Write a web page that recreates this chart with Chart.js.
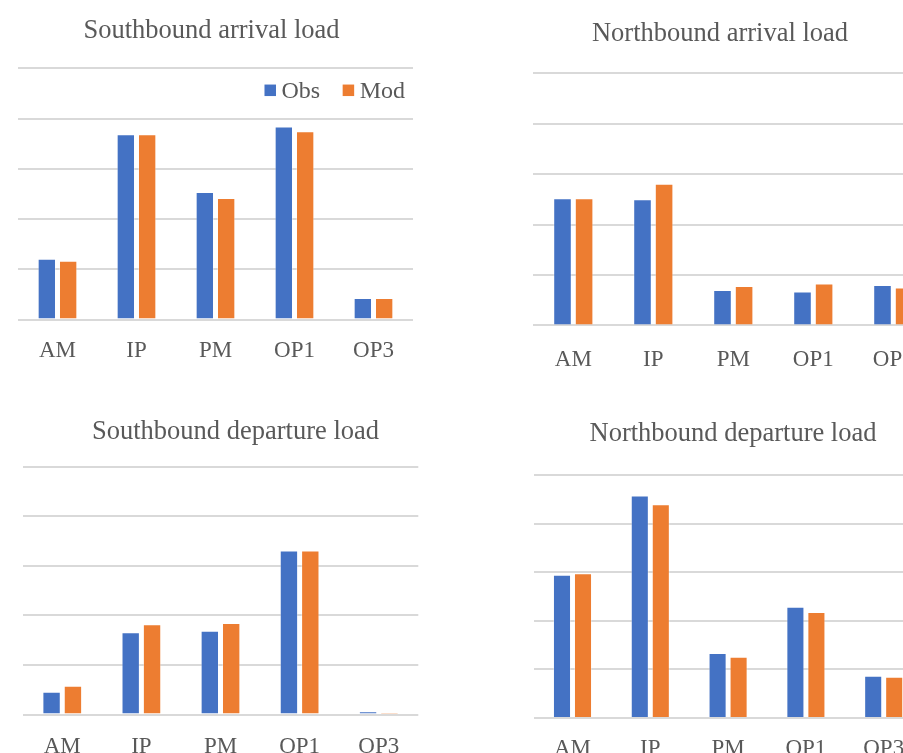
<!DOCTYPE html>
<html>
<head>
<meta charset="utf-8">
<script src="https://cdn.jsdelivr.net/npm/chart.js@4.4.1/dist/chart.umd.min.js"></script>
<style>
  html, body { margin: 0; padding: 0; background: #fff; }
  body { position: relative; width: 903px; height: 753px; overflow: hidden; }
  .panel { position: absolute; }
  .panel canvas { display: block; }
</style>
</head>
<body>
<div class="panel" style="left:0px;top:0px"><canvas id="sbArr" width="423" height="383"></canvas></div>
<div class="panel" style="left:500px;top:0px"><canvas id="nbArr" width="440" height="394"></canvas></div>
<div class="panel" style="left:0px;top:390px"><canvas id="sbDep" width="471" height="390"></canvas></div>
<div class="panel" style="left:520px;top:390px"><canvas id="nbDep" width="426" height="390"></canvas></div>
<script>
// Time periods shown on every panel
const periods = ['AM', 'IP', 'PM', 'OP1', 'OP3'];
const seriesNames = ['Obs', 'Mod'];

// Southbound arrival load
const sbArrivalObs = [1.21, 3.69, 2.54, 3.84, 0.43];
const sbArrivalMod = [1.17, 3.69, 2.42, 3.75, 0.43];
// Northbound arrival load
const nbArrivalObs = [2.52, 2.50, 0.70, 0.67, 0.80];
const nbArrivalMod = [2.52, 2.81, 0.78, 0.83, 0.75];
// Southbound departure load
const sbDepartureObs = [0.46, 1.66, 1.69, 3.31, 0.07];
const sbDepartureMod = [0.58, 1.82, 1.85, 3.31, 0.04];
// Northbound departure load
const nbDepartureObs = [2.95, 4.58, 1.34, 2.29, 0.87];
const nbDepartureMod = [2.98, 4.40, 1.26, 2.18, 0.85];

const BLUE = '#4472C4';
const ORANGE = '#ED7D31';
const TEXT = '#595959';
const GRID = '#D9D9D9';
const SERIF = "'Liberation Serif', 'Times New Roman', serif";

// Legend drawn inside the plot, at its top-right corner
const insideLegend = {
  id: 'insideLegend',
  afterDatasetsDraw(chart, args, opts) {
    if (!opts || !opts.show) return;
    const ctx = chart.ctx;
    const area = chart.chartArea;
    const size = opts.fontSize;
    ctx.save();
    ctx.font = size + 'px ' + SERIF;
    ctx.textBaseline = 'middle';
    ctx.textAlign = 'left';
    const box = opts.box, boxGap = opts.boxGap, itemGap = opts.itemGap;
    const items = chart.data.datasets.map(ds => ({
      text: ds.label, color: ds.backgroundColor,
      w: box + boxGap + ctx.measureText(ds.label).width
    }));
    let x = area.right - opts.right;
    for (let i = items.length - 1; i >= 0; i--) x -= items[i].w + (i < items.length - 1 ? itemGap : 0);
    const cy = area.top + opts.top;
    items.forEach(it => {
      ctx.fillStyle = it.color;
      ctx.fillRect(x, cy - box / 2, box, box);
      ctx.fillStyle = TEXT;
      ctx.fillText(it.text, x + box + boxGap, cy + 1);
      x += it.w + itemGap;
    });
    ctx.restore();
  }
};

function makeChart(id, title, obs, mod, geo) {
  return new Chart(document.getElementById(id), {
    type: 'bar',
    data: {
      labels: periods,
      datasets: [
        { label: seriesNames[0], data: obs, backgroundColor: BLUE, borderColor: 'rgba(255,255,255,0.35)', borderWidth: 1 },
        { label: seriesNames[1], data: mod, backgroundColor: ORANGE, borderColor: 'rgba(255,255,255,0.35)', borderWidth: 1 }
      ]
    },
    options: {
      responsive: false,
      animation: false,
      categoryPercentage: 0.54,
      barPercentage: 0.86,
      layout: { padding: { left: 0, right: 0, top: 0, bottom: 0 } },
      plugins: {
        legend: { display: false },
        tooltip: { enabled: false },
        title: {
          display: true,
          text: title,
          color: TEXT,
          font: { family: SERIF, size: 26.5, weight: 'normal', lineHeight: 1.2 },
          padding: { top: geo.titleTop, bottom: geo.titleBottom }
        },
        insideLegend: geo.legend || { show: false }
      },
      scales: {
        x: {
          offset: true,
          grid: { display: false, drawTicks: false },
          border: { display: false },
          ticks: { color: TEXT, padding: geo.tickPad, font: { family: SERIF, size: 23, lineHeight: 1.2 }, maxRotation: 0, autoSkip: false }
        },
        y: {
          position: 'left',
          min: 0, max: 5,
          ticks: { display: false, stepSize: 1 },
          grid: { color: GRID, lineWidth: 2, drawTicks: false },
          border: { display: false },
          afterFit(s) { s.width = geo.leftW; }
        },
        yRight: {
          position: 'right',
          min: 0, max: 1,
          ticks: { display: false },
          grid: { display: false, drawTicks: false },
          border: { display: false },
          afterFit(s) { s.width = geo.rightW; }
        }
      }
    },
    plugins: [insideLegend]
  });
}

makeChart('sbArr', 'Southbound arrival load', sbArrivalObs, sbArrivalMod, {
  titleTop: 15.6, titleBottom: 20.9, tickPad: 17.9, leftW: 18, rightW: 10,
  legend: { show: true, fontSize: 24, box: 11.5, boxGap: 5.5, itemGap: 22.5, right: 8, top: 22 }
});
makeChart('nbArr', 'Northbound arrival load', nbArrivalObs, nbArrivalMod, {
  titleTop: 18.3, titleBottom: 23.2, tickPad: 20.5, leftW: 33.3, rightW: 6.7
});
makeChart('sbDep', 'Southbound departure load', sbDepartureObs, sbDepartureMod, {
  titleTop: 26.3, titleBottom: 18.6, tickPad: 18.9, leftW: 22.7, rightW: 52.7
});
makeChart('nbDep', 'Northbound departure load', nbDepartureObs, nbDepartureMod, {
  titleTop: 27.9, titleBottom: 25.3, tickPad: 17.2, leftW: 13.6, rightW: 23.4
});
</script>
</body>
</html>
